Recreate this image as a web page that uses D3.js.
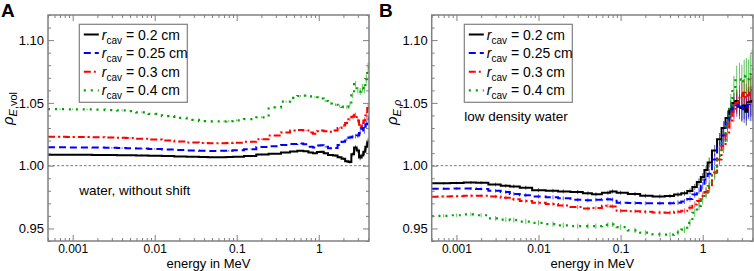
<!DOCTYPE html>
<html><head><meta charset="utf-8">
<script src="https://cdn.jsdelivr.net/npm/d3@7"></script>
<style>
html,body{margin:0;padding:0;background:#fff;}
svg{display:block;font-family:"Liberation Sans",Arial,Helvetica,sans-serif;}
</style></head>
<body><svg id="c" width="754" height="271"></svg>
<script>
// ---------------- data ----------------
const energies = [0.0005,0.0007,0.001,0.0015,0.002,0.003,0.004,0.005,0.007,0.01,0.015,0.02,0.03,0.04,0.05,0.07,0.08,0.1,0.15,0.2,0.3,0.4,0.5,0.6,0.7,0.8,0.9,1.0,1.1,1.2,1.4,1.6,1.8,2.0,2.2,2.4,2.6,2.8,3.0,3.2,3.4,3.6,3.8,4.0,4.2];

const seriesLabels = ["0.2","0.25","0.3","0.4"];

// Panel A: water, without shift
const aBlack = [1.0086,1.0086,1.0086,1.0086,1.0085,1.0084,1.0083,1.0082,1.0081,1.0079,1.0076,1.0074,1.0072,1.0070,1.0068,1.0068,1.0069,1.0072,1.0076,1.0088,1.0095,1.0105,1.0112,1.0118,1.0115,1.0105,1.0098,1.0108,1.0110,1.0098,1.0085,1.0080,1.0068,1.0055,1.0035,1.0030,1.0090,1.0145,1.0120,1.0065,1.0080,1.0110,1.0150,1.0190,1.0195];
const aBlue  = [1.0146,1.0146,1.0145,1.0145,1.0144,1.0142,1.0140,1.0138,1.0136,1.0133,1.0128,1.0124,1.0120,1.0118,1.0117,1.0118,1.0119,1.0122,1.0130,1.0148,1.0155,1.0165,1.0172,1.0176,1.0170,1.0150,1.0145,1.0160,1.0162,1.0150,1.0138,1.0140,1.0165,1.0190,1.0210,1.0225,1.0230,1.0235,1.0240,1.0260,1.0300,1.0280,1.0330,1.0370,1.0380];
const aRed   = [1.0230,1.0230,1.0229,1.0228,1.0227,1.0225,1.0222,1.0220,1.0215,1.0208,1.0200,1.0192,1.0185,1.0180,1.0178,1.0178,1.0180,1.0183,1.0190,1.0210,1.0240,1.0265,1.0280,1.0285,1.0280,1.0265,1.0255,1.0275,1.0280,1.0275,1.0270,1.0280,1.0300,1.0320,1.0340,1.0370,1.0390,1.0405,1.0360,1.0310,1.0320,1.0360,1.0400,1.0460,1.0475];
const aGreen = [1.0450,1.0450,1.0449,1.0448,1.0446,1.0443,1.0440,1.0435,1.0425,1.0412,1.0395,1.0380,1.0365,1.0355,1.0352,1.0352,1.0355,1.0360,1.0370,1.0385,1.0465,1.0510,1.0540,1.0555,1.0558,1.0552,1.0545,1.0545,1.0535,1.0515,1.0495,1.0485,1.0475,1.0468,1.0465,1.0490,1.0560,1.0650,1.0600,1.0590,1.0620,1.0610,1.0690,1.0780,1.0800];
const aErr   = [0.0005,0.0005,0.0005,0.0005,0.0005,0.0006,0.0006,0.0006,0.0006,0.0006,0.0006,0.0006,0.0006,0.0006,0.0006,0.0006,0.0006,0.0006,0.0006,0.0006,0.0006,0.0006,0.0006,0.0006,0.0006,0.0006,0.0006,0.0007,0.0007,0.0007,0.0008,0.0008,0.0009,0.0010,0.0012,0.0014,0.0016,0.0018,0.0020,0.0022,0.0024,0.0026,0.0028,0.0030,0.0030];

// Panel B: low density water
const bBlack = [0.9860,0.9860,0.9862,0.9865,0.9864,0.9850,0.9840,0.9835,0.9825,0.9805,0.9800,0.9795,0.9790,0.9780,0.9772,0.9785,0.9795,0.9785,0.9775,0.9760,0.9755,0.9758,0.9770,0.9780,0.9798,0.9830,0.9870,0.9910,0.9965,1.0025,1.0120,1.0210,1.0300,1.0380,1.0450,1.0500,1.0515,1.0470,1.0460,1.0480,1.0430,1.0505,1.0510,1.0515,1.0515];
const bBlue  = [0.9817,0.9817,0.9818,0.9818,0.9815,0.9800,0.9790,0.9775,0.9765,0.9755,0.9748,0.9740,0.9728,0.9725,0.9728,0.9732,0.9730,0.9705,0.9702,0.9700,0.9700,0.9700,0.9705,0.9715,0.9735,0.9770,0.9800,0.9840,0.9890,0.9935,1.0050,1.0145,1.0240,1.0355,1.0430,1.0465,1.0480,1.0500,1.0470,1.0450,1.0470,1.0490,1.0475,1.0475,1.0475];
const bRed   = [0.9753,0.9755,0.9757,0.9760,0.9760,0.9755,0.9745,0.9732,0.9718,0.9705,0.9695,0.9682,0.9670,0.9658,0.9662,0.9680,0.9675,0.9640,0.9636,0.9632,0.9626,0.9625,0.9632,0.9640,0.9665,0.9690,0.9718,0.9758,0.9790,0.9825,0.9945,1.0050,1.0156,1.0250,1.0360,1.0430,1.0500,1.0540,1.0555,1.0580,1.0540,1.0560,1.0600,1.0600,1.0600];
const bGreen = [0.9598,0.9600,0.9605,0.9612,0.9605,0.9580,0.9570,0.9566,0.9555,0.9545,0.9535,0.9524,0.9518,0.9518,0.9518,0.9528,0.9532,0.9510,0.9485,0.9466,0.9452,0.9450,0.9468,0.9490,0.9545,0.9625,0.9680,0.9730,0.9785,0.9837,0.9944,1.0080,1.0200,1.0350,1.0480,1.0610,1.0680,1.0690,1.0660,1.0700,1.0715,1.0690,1.0730,1.0768,1.0770];
const bErr   = [0.0010,0.0010,0.0010,0.0012,0.0012,0.0014,0.0015,0.0015,0.0016,0.0016,0.0016,0.0016,0.0016,0.0016,0.0016,0.0016,0.0016,0.0016,0.0016,0.0016,0.0016,0.0016,0.0018,0.0020,0.0022,0.0025,0.0028,0.0030,0.0035,0.0040,0.0045,0.0050,0.0055,0.0060,0.0070,0.0080,0.0090,0.0100,0.0110,0.0110,0.0110,0.0120,0.0120,0.0120,0.0120];

const xMajorTicks = [0.001,0.01,0.1,1];
const xTickLabels = ["0.001","0.01","0.1","1"];
const yMajorTicks = [0.95,1.00,1.05,1.10];
const yTickLabels = ["0.95","1.00","1.05","1.10"];

// ---------------- drawing ----------------
const svg = d3.select("#c");
const colors = ["#000000","#0000ff","#ff0000","#00a000"];
const dashes = [null,"7,4","7,3,2,3","2,5"];
const widths = [2,2,2,2.2];
const frameCol = "#808080";

function panel(opt){
  const L = opt.left, R = opt.right, T = 15, B = 241;
  const x = d3.scaleLog().domain([0.0005,4.1]).range([L,R]);
  const y = d3.scaleLinear().domain([0.94,1.12]).range([B,T]);
  const g = svg.append("g");
  const clipId = "clip"+opt.key;
  svg.append("clipPath").attr("id",clipId).append("rect")
    .attr("x",L).attr("y",T).attr("width",R-L).attr("height",B-T);

  // reference line at 1.00
  g.append("line").attr("x1",L).attr("x2",R).attr("y1",y(1)).attr("y2",y(1))
    .attr("stroke","#555").attr("stroke-width",0.8).attr("stroke-dasharray","2.5,2");

  // series
  const data = opt.series;
  const pg = g.append("g").attr("clip-path",`url(#${clipId})`);
  const line = d3.line().x(d=>x(d[0])).y(d=>y(d[1])).curve(d3.curveStep);
  data.forEach((vals,si)=>{
    const pts = energies.map((e,i)=>[e,vals[i]]);
    pg.append("g").selectAll("line").data(pts).join("line")
      .attr("x1",d=>x(d[0])).attr("x2",d=>x(d[0]))
      .attr("y1",(d,i)=>y(d[1]-opt.err[i]*(si===3?1.3:1)))
      .attr("y2",(d,i)=>y(d[1]+opt.err[i]*(si===3?1.3:1)))
      .attr("stroke",colors[si]).attr("stroke-width",0.8).attr("opacity",0.8);
  });
  data.forEach((vals,si)=>{
    const pts = energies.map((e,i)=>[e,vals[i]]);
    pg.append("path").attr("d",line(pts)).attr("fill","none")
      .attr("stroke",colors[si]).attr("stroke-width",widths[si])
      .attr("stroke-dasharray",dashes[si]);
  });

  // axes
  const minorX = x.ticks().filter(v=>!xMajorTicks.some(m=>Math.abs(m-v)/m<1e-6));
  const minorY = y.ticks(18).filter(v=>!yMajorTicks.some(m=>Math.abs(m-v)<1e-6));
  function styleAxis(a){
    a.select(".domain").remove();
    a.selectAll("line").attr("stroke",frameCol).attr("stroke-width",1);
  }
  const axB = g.append("g").attr("transform",`translate(0,${B})`)
    .call(d3.axisBottom(x).tickValues(xMajorTicks).tickSize(-6).tickFormat((d,i)=>xTickLabels[i]).tickPadding(3.5));
  styleAxis(axB);
  axB.selectAll("text").attr("font-size",12).attr("fill","#000").attr("font-family","Liberation Sans, Arial, sans-serif");
  styleAxis(g.append("g").attr("transform",`translate(0,${B})`).call(d3.axisBottom(x).tickValues(minorX).tickSize(-3).tickFormat("")));
  styleAxis(g.append("g").attr("transform",`translate(0,${T})`).call(d3.axisTop(x).tickValues(xMajorTicks).tickSize(-6).tickFormat("")));
  styleAxis(g.append("g").attr("transform",`translate(0,${T})`).call(d3.axisTop(x).tickValues(minorX).tickSize(-3).tickFormat("")));
  const axL = g.append("g").attr("transform",`translate(${L},0)`)
    .call(d3.axisLeft(y).tickValues(yMajorTicks).tickSize(-6).tickFormat((d,i)=>yTickLabels[i]).tickPadding(4));
  styleAxis(axL);
  axL.selectAll("text").attr("font-size",13).attr("fill","#000").attr("font-family","Liberation Sans, Arial, sans-serif");
  styleAxis(g.append("g").attr("transform",`translate(${L},0)`).call(d3.axisLeft(y).tickValues(minorY).tickSize(-3).tickFormat("")));
  styleAxis(g.append("g").attr("transform",`translate(${R},0)`).call(d3.axisRight(y).tickValues(yMajorTicks).tickSize(-6).tickFormat("")));
  styleAxis(g.append("g").attr("transform",`translate(${R},0)`).call(d3.axisRight(y).tickValues(minorY).tickSize(-3).tickFormat("")));

  // frame
  g.append("rect").attr("x",L).attr("y",T).attr("width",R-L).attr("height",B-T)
    .attr("fill","none").attr("stroke",frameCol).attr("stroke-width",1.5);

  // x title
  g.append("text").attr("x",(L+R)/2).attr("y",267.5).attr("text-anchor","middle")
    .attr("font-size",13).text("energy in MeV");

  // y title
  const yt = g.append("text").attr("transform",`translate(${L-35},125) rotate(-90)`)
    .attr("font-size",15);
  yt.append("tspan").attr("font-style","italic").text("ρ");
  const sub = yt.append("tspan").attr("font-size",11).attr("dy",4);
  sub.append("tspan").attr("font-style","italic").text("E");
  sub.append("tspan").text(",");
  sub.append("tspan").attr("font-style",opt.subItalic?"italic":"normal").text(opt.sub);

  // panel letter
  svg.append("text").attr("x",opt.letterX).attr("y",17.2).attr("font-size",19)
    .attr("font-weight","bold").text(opt.letter);

  // legend
  const lx = opt.legX, ly = 24.3, lw = 108, lh = 78;
  g.append("rect").attr("x",lx).attr("y",ly).attr("width",lw).attr("height",lh)
    .attr("fill","#fff").attr("stroke",frameCol).attr("stroke-width",1.2);
  seriesLabels.forEach((lab,i)=>{
    const cy = 34.5 + i*18.6;
    g.append("line").attr("x1",lx+4.5).attr("x2",lx+19.5).attr("y1",cy).attr("y2",cy)
      .attr("stroke",colors[i]).attr("stroke-width",widths[i]).attr("stroke-dasharray",dashes[i]);
    const t = g.append("text").attr("x",lx+22.5).attr("y",cy+5).attr("font-size",14);
    t.append("tspan").attr("font-style","italic").text("r");
    t.append("tspan").attr("font-size",10).attr("dy",4).text("cav");
    t.append("tspan").attr("dy",-4).text(" = "+lab+" cm");
  });

  // annotation
  g.append("text").attr("x",opt.noteX).attr("y",opt.noteY).attr("font-size",13.5).text(opt.note);
}

panel({key:"A",left:48,right:369,series:[aBlack,aBlue,aRed,aGreen],err:aErr,
  sub:"vol",subItalic:false,letter:"A",letterX:1,legX:79.3,
  note:"water, without shift",noteX:79.3,noteY:195});
panel({key:"B",left:431.7,right:753,series:[bBlack,bBlue,bRed,bGreen],err:bErr,
  sub:"ρ",subItalic:true,letter:"B",letterX:379,legX:464.3,
  note:"low density water",noteX:464.3,noteY:121});
</script></body></html>
